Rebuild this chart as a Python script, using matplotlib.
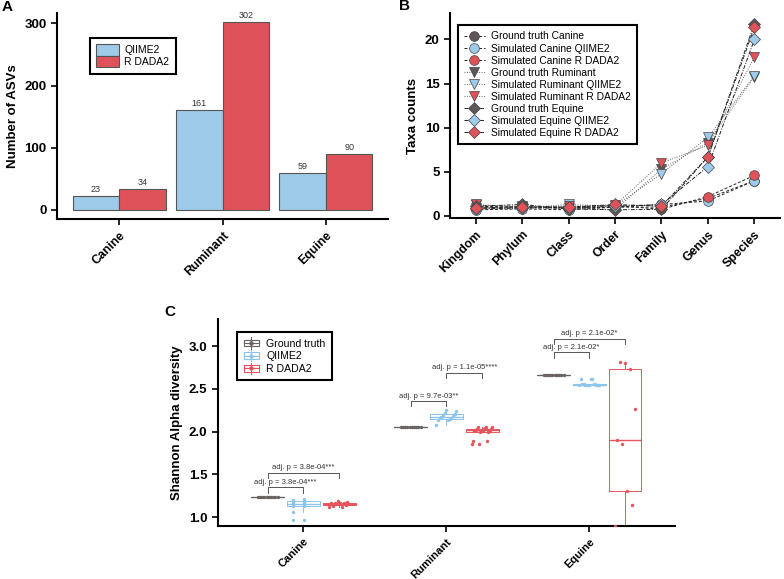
import matplotlib
matplotlib.use('Agg')
import matplotlib.pyplot as plt
import numpy as np
from matplotlib.legend_handler import HandlerBase
from matplotlib.patches import Rectangle, Patch
from matplotlib.lines import Line2D

plt.rcParams['font.family'] = ['Liberation Sans', 'DejaVu Sans']

# ---------------- data ----------------
groups = ['Canine', 'Ruminant', 'Equine']
asv_qiime2 = [23, 161, 59]
asv_dada2 = [34, 302, 90]

ranks = ['Kingdom', 'Phylum', 'Class', 'Order', 'Family', 'Genus', 'Species']
gt_canine = [1.0, 1.0, 0.9, 1.0, 1.0, 2.0, 4.0]
sim_canine_qiime2 = [0.7, 0.8, 0.7, 1.0, 1.3, 1.7, 4.0]
sim_canine_dada2 = [1.1, 1.0, 1.0, 1.2, 0.75, 2.2, 4.6]
gt_ruminant = [1.2, 1.1, 0.9, 0.7, 5.3, 8.3, 15.8]
sim_ruminant_qiime2 = [0.9, 0.9, 1.3, 1.1, 4.8, 8.9, 15.9]
sim_ruminant_dada2 = [1.3, 1.0, 1.1, 1.2, 6.0, 8.0, 18.0]
gt_equine = [1.1, 1.3, 0.8, 0.7, 0.75, 6.7, 21.8]
sim_equine_qiime2 = [0.8, 0.9, 0.9, 1.1, 1.3, 5.6, 20.0]
sim_equine_dada2 = [0.9, 1.05, 1.0, 1.3, 1.1, 6.7, 21.4]

methods = ['Ground truth', 'QIIME2', 'R DADA2']
shannon_canine_gt = [1.24] * 10
shannon_canine_qiime2 = [0.97, 0.97, 1.06, 1.13, 1.13, 1.14, 1.15, 1.16, 1.17,
                         1.18, 1.19, 1.19, 1.20, 1.21]
shannon_canine_dada2 = [1.12, 1.12, 1.13, 1.14, 1.15, 1.15, 1.16, 1.16, 1.17,
                        1.17, 1.18, 1.19]
shannon_ruminant_gt = [2.05] * 10
shannon_ruminant_qiime2 = [2.08, 2.14, 2.14, 2.15, 2.16, 2.16, 2.17, 2.18, 2.20,
                           2.21, 2.22, 2.24, 2.25]
shannon_ruminant_dada2 = [1.86, 1.86, 1.89, 1.89, 2.00, 2.00, 2.01, 2.01, 2.01,
                          2.02, 2.02, 2.02, 2.02, 2.03, 2.03, 2.03, 2.04, 2.05,
                          2.06, 2.06]
shannon_equine_gt = [2.66] * 10
shannon_equine_qiime2 = [2.55, 2.55, 2.55, 2.55, 2.55, 2.55, 2.55, 2.55, 2.56,
                         2.56, 2.56, 2.56, 2.62, 2.62, 2.62]
shannon_equine_dada2 = [0.90, 1.14, 1.30, 1.86, 1.90, 2.27, 2.74, 2.81, 2.82]

# significance annotations
sig_group = [0, 0, 1, 1, 2, 2]
sig_from = [0, 0, 0, 1, 0, 0]
sig_to = [1, 2, 1, 2, 1, 2]
sig_level = [1.348, 1.52, 2.36, 2.69, 2.93, 3.09]
sig_label = ['adj. p = 3.8e-04***', 'adj. p = 3.8e-04***', 'adj. p = 9.7e-03**',
             'adj. p = 1.1e-05****', 'adj. p = 2.1e-02*', 'adj. p = 2.1e-02*']

# ---------------- style ----------------
BLUE = '#9ecbe9'
RED = '#e0525a'
GREY = '#5f5757'
W, H = 784, 579

fig = plt.figure(figsize=(W / 100, H / 100), dpi=100)


def px_axes(l, t, r, b):
    return fig.add_axes([l / W, 1 - b / H, (r - l) / W, (b - t) / H])


def style_axes(ax):
    for s in ['top', 'right']:
        ax.spines[s].set_visible(False)
    for s in ['left', 'bottom']:
        ax.spines[s].set_linewidth(1.5)
        ax.spines[s].set_color('black')
    ax.tick_params(axis='both', direction='out', length=4, width=1.2, color='black')
    for lab in ax.get_yticklabels():
        lab.set_fontweight('bold')
        lab.set_fontsize(9.5)


# ---------------- Panel A ----------------
axA = px_axes(57, 13, 388, 219)
x = np.arange(len(groups))
bw = 0.45
axA.bar(x - bw / 2, asv_qiime2, bw, color=BLUE, edgecolor='#555555', linewidth=0.8)
axA.bar(x + bw / 2, asv_dada2, bw, color=RED, edgecolor='#555555', linewidth=0.8)
for xi, v in zip(x - bw / 2, asv_qiime2):
    axA.text(xi, v + 3, str(v), ha='center', va='bottom', fontsize=6.5, color='#333333')
for xi, v in zip(x + bw / 2, asv_dada2):
    axA.text(xi, v + 3, str(v), ha='center', va='bottom', fontsize=6.5, color='#333333')
axA.set_xlim(-0.6, 2.6)
axA.set_ylim(-14.5, 316.6)
axA.set_yticks([0, 100, 200, 300])
axA.set_xticks(x)
axA.set_xticklabels(groups, rotation=45, ha='right', rotation_mode='anchor',
                    fontsize=8.8, fontweight='bold')
axA.set_ylabel('Number of ASVs', fontsize=9.5, fontweight='bold')
style_axes(axA)
legA = axA.legend(handles=[Patch(facecolor=BLUE, edgecolor='#555555', lw=0.8, label='QIIME2'),
                           Patch(facecolor=RED, edgecolor='#555555', lw=0.8, label='R DADA2')],
                  loc='upper left', bbox_to_anchor=(0.1, 0.88), borderaxespad=0,
                  fontsize=7.5, handlelength=2.2, handleheight=1.35, labelspacing=0.0,
                  handletextpad=0.5, fancybox=False, edgecolor='black', framealpha=1,
                  borderpad=0.6)
legA.get_frame().set_linewidth(1.5)

# ---------------- Panel B ----------------
axB = px_axes(450, 13, 780, 218)
xr = np.arange(len(ranks))
series = [
    ('Ground truth Canine', gt_canine, GREY, 'o', (0, (3, 2))),
    ('Simulated Canine QIIME2', sim_canine_qiime2, BLUE, 'o', (0, (3, 2))),
    ('Simulated Canine R DADA2', sim_canine_dada2, RED, 'o', (0, (3, 2))),
    ('Ground truth Ruminant', gt_ruminant, GREY, 'v', (0, (1, 1.5))),
    ('Simulated Ruminant QIIME2', sim_ruminant_qiime2, BLUE, 'v', (0, (1, 1.5))),
    ('Simulated Ruminant R DADA2', sim_ruminant_dada2, RED, 'v', (0, (1, 1.5))),
    ('Ground truth Equine', gt_equine, GREY, 'D', (0, (4, 1.5, 1, 1.5))),
    ('Simulated Equine QIIME2', sim_equine_qiime2, BLUE, 'D', (0, (4, 1.5, 1, 1.5))),
    ('Simulated Equine R DADA2', sim_equine_dada2, RED, 'D', (0, (4, 1.5, 1, 1.5))),
]
handlesB = []
for name, vals, col, mk, ls in series:
    lc = '#666666' if mk == 'v' else '#222222'
    axB.plot(xr, vals, linestyle=ls, color=lc, lw=0.7, zorder=2)
    ms = 5.8 if mk == 'D' else 7
    axB.plot(xr, vals, linestyle='none', marker=mk, ms=ms, markerfacecolor=col,
             markeredgecolor='#444444', markeredgewidth=0.5, zorder=3)
    handlesB.append(Line2D([], [], linestyle=ls, color=lc, lw=0.7, marker=mk, ms=ms,
                           markerfacecolor=col, markeredgecolor='#444444',
                           markeredgewidth=0.5, label=name))
axB.set_xlim(-0.55, 6.55)
axB.set_ylim(-0.23, 23.0)
axB.set_yticks([0, 5, 10, 15, 20])
axB.set_xticks(xr)
axB.set_xticklabels(ranks, rotation=45, ha='right', rotation_mode='anchor',
                    fontsize=8.8, fontweight='bold')
axB.set_ylabel('Taxa counts', fontsize=9.5, fontweight='bold')
style_axes(axB)
legB = axB.legend(handles=handlesB, loc='upper left', bbox_to_anchor=(0.024, 0.94),
                  borderaxespad=0, fontsize=7.4, handlelength=2.0, labelspacing=0.2,
                  handletextpad=0.6, fancybox=False, edgecolor='black', framealpha=1,
                  borderpad=0.6)
legB.get_frame().set_linewidth(1.5)

# ---------------- Panel C ----------------
axC = px_axes(217.7, 319, 675, 526)
mc_line = ['#6b6262', '#8cc4ea', '#e8545e']
offsets = [-0.25, 0.0, 0.25]
data_C = [
    [shannon_canine_gt, shannon_canine_qiime2, shannon_canine_dada2],
    [shannon_ruminant_gt, shannon_ruminant_qiime2, shannon_ruminant_dada2],
    [shannon_equine_gt, shannon_equine_qiime2, shannon_equine_dada2],
]
for gi, gdata in enumerate(data_C):
    for mi, vals in enumerate(gdata):
        pos = gi + offsets[mi]
        c = mc_line[mi]
        axC.boxplot([vals], positions=[pos], widths=0.23, showfliers=False,
                    showcaps=False, whis=1.5,
                    boxprops=dict(color=c, lw=0.7),
                    medianprops=dict(color=c, lw=1.0),
                    whiskerprops=dict(color=c, lw=0.7), manage_ticks=False)
        n = len(vals)
        jit = np.array([((i * 7) % n) / max(n - 1, 1) - 0.5 for i in range(n)]) * 0.14
        axC.scatter(pos + jit, vals, s=6, color=c, zorder=3, linewidths=0)

for g, a, b, lvl, lab in zip(sig_group, sig_from, sig_to, sig_level, sig_label):
    x1 = g + offsets[a]
    x2 = g + offsets[b]
    axC.plot([x1, x1, x2, x2], [lvl - 0.065, lvl, lvl, lvl - 0.065], color='#555555', lw=0.7)
    axC.text((x1 + x2) / 2, lvl + 0.015, lab, ha='center', va='bottom', fontsize=5.5,
             color='#333333')

axC.set_xlim(-0.6, 2.6)
axC.set_ylim(0.895, 3.32)
axC.set_yticks([1.0, 1.5, 2.0, 2.5, 3.0])
axC.set_yticklabels(['1.0', '1.5', '2.0', '2.5', '3.0'])
axC.set_xticks(np.arange(3))
axC.set_xticklabels(groups, rotation=45, ha='right', rotation_mode='anchor',
                    fontsize=8.0, fontweight='bold')
axC.set_ylabel('Shannon Alpha diversity', fontsize=9.5, fontweight='bold')
style_axes(axC)


class BoxHandler(HandlerBase):
    def create_artists(self, legend, orig_handle, xdescent, ydescent, width, height,
                       fontsize, trans):
        c = orig_handle.get_color()
        cx = -xdescent + width / 2
        cy = -ydescent + height / 2
        bw_ = width * 0.85
        bh_ = height * 0.75
        rect = Rectangle((cx - bw_ / 2, cy - bh_ / 2), bw_, bh_, fill=False,
                         edgecolor=c, lw=0.8, transform=trans)
        hl = Line2D([cx - bw_ / 2, cx + bw_ / 2], [cy, cy], color=c, lw=0.8, transform=trans)
        vl = Line2D([cx, cx], [-ydescent - 1, -ydescent + height + 1], color=c, lw=0.8,
                    transform=trans)
        dot = Line2D([cx], [cy], marker='o', ms=2.2, color=c, linestyle='none',
                     transform=trans)
        return [rect, hl, vl, dot]


handlesC = [Line2D([], [], color=c, label=m) for c, m in zip(mc_line, methods)]
legC = axC.legend(handles=handlesC, loc='upper left', bbox_to_anchor=(0.0415, 0.936),
                  borderaxespad=0, fontsize=7.6, handlelength=1.6, handleheight=0.9,
                  labelspacing=0.25, handletextpad=0.6, fancybox=False,
                  edgecolor='black', framealpha=1, borderpad=0.6,
                  handler_map={Line2D: BoxHandler()})
legC.get_frame().set_linewidth(1.5)

# panel letters
fig.text(7 / W, 1 - 7 / H, 'A', fontsize=11, fontweight='bold', ha='center', va='center')
fig.text(405 / W, 1 - 6 / H, 'B', fontsize=11, fontweight='bold', ha='center', va='center')
fig.text(170 / W, 1 - 312 / H, 'C', fontsize=11, fontweight='bold', ha='center', va='center')

fig.savefig('out.png', dpi=100)
